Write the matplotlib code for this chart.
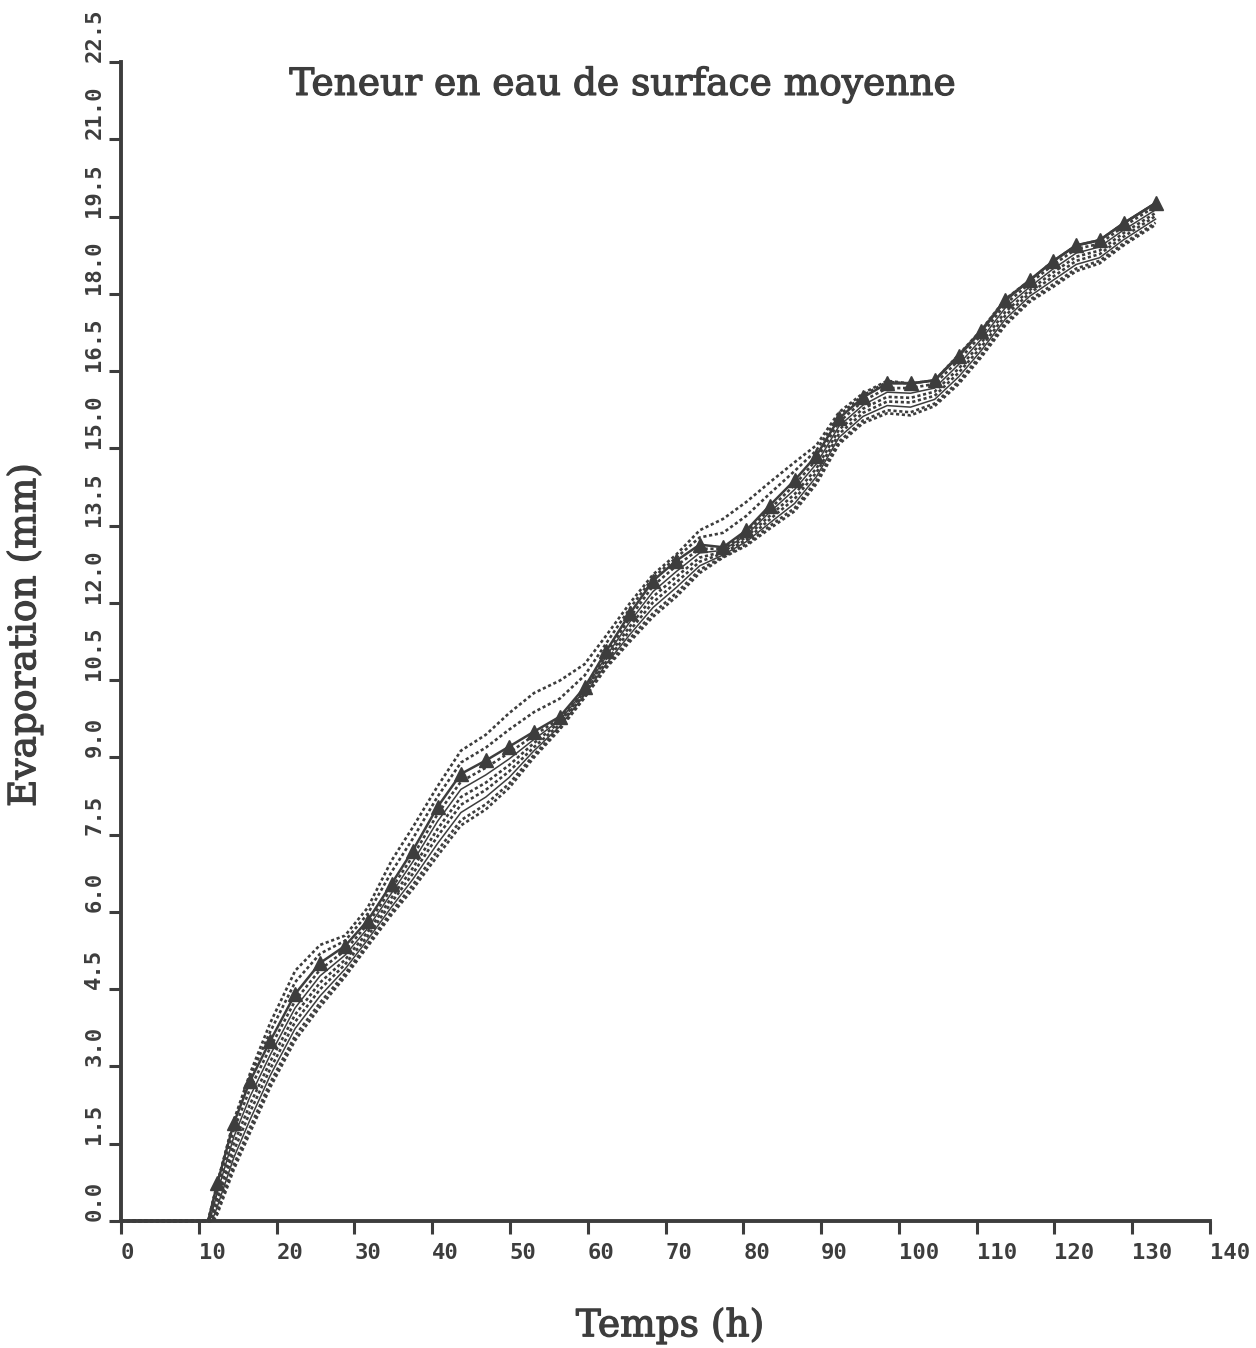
import matplotlib
matplotlib.use("Agg")
import matplotlib.pyplot as plt
import matplotlib.patheffects as pe

# --- data ------------------------------------------------------------------
hours = [12.4, 14.5, 16.6, 19.2, 22.4, 25.6, 28.8, 31.7, 34.8, 37.5, 40.7,
         43.7, 46.9, 49.9, 53.1, 56.4, 59.6, 62.4, 65.5, 68.4, 71.4, 74.4,
         77.4, 80.4, 83.4, 86.6, 89.4, 92.3, 95.4, 98.5, 101.5, 104.6, 107.7,
         110.6, 113.7, 116.8, 119.8, 122.8, 125.8, 128.9, 133.0]

# mean surface water content run (solid line with triangles)
mean_run = [0.74, 1.90, 2.72, 3.50, 4.41, 5.01, 5.34, 5.83, 6.55, 7.19, 8.04,
            8.68, 8.94, 9.21, 9.50, 9.79, 10.36, 11.07, 11.81, 12.43, 12.82, 13.13,
            13.08, 13.41, 13.89, 14.38, 14.86, 15.58, 15.99, 16.26, 16.26, 16.32, 16.79,
            17.27, 17.87, 18.26, 18.63, 18.94, 19.04, 19.37, 19.76]
mean_start = 11.2

# other simulations of the ensemble
run_1 = [0.74, 1.95, 2.87, 3.85, 4.86, 5.36, 5.54, 6.08, 7.00, 7.64, 8.44,
         9.13, 9.44, 9.86, 10.25, 10.49, 10.81, 11.37, 12.01, 12.55, 12.94, 13.41,
         13.63, 13.96, 14.34, 14.73, 15.06, 15.70, 16.07, 16.31, 16.26, 16.32, 16.82,
         17.30, 17.90, 18.26, 18.63, 18.94, 19.04, 19.37, 19.76]
run_2 = [0.74, 1.93, 2.80, 3.68, 4.64, 5.19, 5.44, 5.96, 6.78, 7.42, 8.24,
         8.90, 9.19, 9.54, 9.88, 10.14, 10.59, 11.22, 11.91, 12.49, 12.88, 13.27,
         13.36, 13.69, 14.12, 14.56, 14.96, 15.64, 16.03, 16.29, 16.26, 16.32, 16.81,
         17.29, 17.89, 18.26, 18.63, 18.94, 19.04, 19.37, 19.76]
run_3 = [0.65, 1.77, 2.57, 3.37, 4.28, 4.88, 5.25, 5.76, 6.46, 7.08, 7.90,
         8.53, 8.80, 9.09, 9.43, 9.75, 10.33, 11.02, 11.73, 12.33, 12.72, 13.05,
         13.05, 13.37, 13.82, 14.29, 14.78, 15.51, 15.92, 16.17, 16.17, 16.25, 16.71,
         17.20, 17.80, 18.20, 18.56, 18.87, 18.97, 19.31, 19.70]
run_4 = [0.56, 1.63, 2.42, 3.23, 4.14, 4.76, 5.16, 5.68, 6.37, 6.97, 7.76,
         8.38, 8.66, 8.97, 9.35, 9.72, 10.30, 10.97, 11.65, 12.22, 12.61, 12.97,
         13.02, 13.32, 13.76, 14.20, 14.70, 15.43, 15.84, 16.09, 16.07, 16.17, 16.63,
         17.12, 17.73, 18.13, 18.48, 18.79, 18.91, 19.24, 19.63]
run_5 = [0.47, 1.50, 2.27, 3.10, 4.01, 4.63, 5.07, 5.61, 6.28, 6.85, 7.61,
         8.23, 8.51, 8.85, 9.28, 9.68, 10.27, 10.92, 11.56, 12.12, 12.51, 12.88,
         12.99, 13.28, 13.69, 14.11, 14.61, 15.36, 15.77, 16.00, 15.98, 16.10, 16.55,
         17.05, 17.65, 18.07, 18.41, 18.72, 18.84, 19.18, 19.57]
run_6 = [0.38, 1.36, 2.12, 2.96, 3.87, 4.50, 4.98, 5.53, 6.19, 6.74, 7.47,
         8.08, 8.37, 8.73, 9.20, 9.64, 10.24, 10.87, 11.48, 12.01, 12.40, 12.80,
         12.96, 13.23, 13.62, 14.02, 14.53, 15.28, 15.69, 15.91, 15.89, 16.02, 16.47,
         16.97, 17.58, 18.01, 18.33, 18.64, 18.77, 19.11, 19.51]
run_7 = [0.29, 1.23, 1.97, 2.83, 3.74, 4.37, 4.89, 5.46, 6.10, 6.63, 7.33,
         7.93, 8.23, 8.61, 9.13, 9.60, 10.21, 10.82, 11.40, 11.91, 12.30, 12.72,
         12.93, 13.19, 13.55, 13.93, 14.45, 15.21, 15.62, 15.83, 15.80, 15.95, 16.39,
         16.90, 17.51, 17.95, 18.26, 18.57, 18.70, 19.05, 19.45]
run_8 = [0.20, 1.09, 1.82, 2.69, 3.60, 4.24, 4.80, 5.38, 6.01, 6.52, 7.19,
         7.78, 8.09, 8.49, 9.05, 9.57, 10.18, 10.77, 11.32, 11.80, 12.19, 12.64,
         12.90, 13.14, 13.49, 13.84, 14.37, 15.13, 15.54, 15.74, 15.70, 15.87, 16.30,
         16.82, 17.44, 17.88, 18.18, 18.49, 18.64, 18.98, 19.38]
run_9 = [0.14, 1.00, 1.72, 2.60, 3.51, 4.16, 4.74, 5.33, 5.95, 6.44, 7.09,
         7.68, 7.99, 8.41, 9.00, 9.54, 10.16, 10.74, 11.26, 11.73, 12.12, 12.58,
         12.88, 13.11, 13.44, 13.78, 14.31, 15.08, 15.49, 15.68, 15.64, 15.82, 16.25,
         16.77, 17.39, 17.84, 18.13, 18.44, 18.59, 18.94, 19.34]

dotted_runs = [run_1, run_2, run_3, run_5, run_6, run_8, run_9]
dotted_starts = [11.2, 11.2, 11.3, 11.5, 11.6, 11.8, 11.9]
solid_runs = [run_4, run_7]
solid_starts = [11.4, 11.7]

x_ticks = list(range(0, 141, 10))
y_ticks = [0.0, 1.5, 3.0, 4.5, 6.0, 7.5, 9.0, 10.5, 12.0, 13.5, 15.0, 16.5,
           18.0, 19.5, 21.0, 22.5]

INK = "#3d3d3d"


def with_start(start, values):
    # each run sits on zero until its start time, then rises
    return [0.0, start] + hours, [0.0, 0.0] + values


def main():
    fig = plt.figure(figsize=(12.56, 13.48), dpi=100)
    ax = fig.add_axes([121 / 1256, 127 / 1348, 1089 / 1256, 1159 / 1348])

    for vals, st in zip(dotted_runs, dotted_starts):
        x, y = with_start(st, vals)
        ax.plot(x, y, color=INK, lw=1.9, linestyle=(0, (1.2, 1.0)),
                clip_on=False)
    for vals, st in zip(solid_runs, solid_starts):
        x, y = with_start(st, vals)
        ax.plot(x, y, color=INK, lw=1.1, clip_on=False)

    x, y = with_start(mean_start, mean_run)
    ax.plot(x, y, color=INK, lw=1.8, marker="^", markersize=10.5,
            markevery=slice(2, None), markerfacecolor=INK,
            markeredgecolor=INK, clip_on=False)

    ax.set_xlim(0, 140)
    ax.set_ylim(0, 22.5)

    for side in ["top", "right"]:
        ax.spines[side].set_visible(False)
    for side in ["left", "bottom"]:
        ax.spines[side].set_linewidth(2.8)
        ax.spines[side].set_color(INK)

    ax.set_xticks(x_ticks)
    ax.set_xticklabels([str(v) for v in x_ticks])
    ax.set_yticks(y_ticks)
    ax.set_yticklabels([f"{v:.1f}" for v in y_ticks])
    ax.tick_params(direction="out", length=9, width=2.2, color=INK,
                   labelcolor=INK)
    ax.tick_params(axis="x", pad=7)
    ax.tick_params(axis="y", pad=3)

    for lab in ax.get_xticklabels():
        lab.set_fontfamily("DejaVu Sans Mono")
        lab.set_fontweight("bold")
        lab.set_fontsize(16)
        lab.set_ha("left")
    for lab in ax.get_yticklabels():
        lab.set_fontfamily("DejaVu Sans Mono")
        lab.set_fontweight("bold")
        lab.set_fontsize(16)
        lab.set_rotation(90)
        lab.set_va("bottom")
        lab.set_ha("right")

    # typewriter-like lettering: regular serif, slightly thickened
    thick = [pe.withStroke(linewidth=0.9, foreground=INK)]
    label_font = dict(family="DejaVu Serif", size=27, color=INK,
                      path_effects=thick)
    ax.text(0.460, 0.980, "Teneur en eau de surface moyenne",
            transform=ax.transAxes, ha="center", va="center", **label_font)
    fig.text(670 / 1256, 1 - 1326 / 1348, "Temps (h)", ha="center",
             va="center", **label_font)
    fig.text(25 / 1256, 1 - 635 / 1348, "Evaporation (mm)", ha="center",
             va="center", rotation=90, **label_font)

    fig.savefig("out.png", dpi=100)


if __name__ == "__main__":
    main()
